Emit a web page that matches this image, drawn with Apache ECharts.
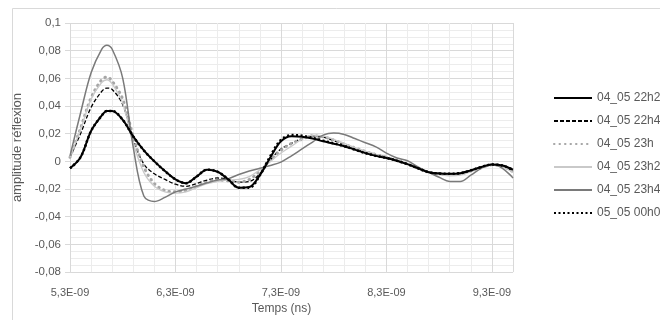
<!DOCTYPE html>
<html>
<head>
<meta charset="utf-8">
<script src="https://cdn.jsdelivr.net/npm/echarts@6/dist/echarts.min.js"></script>
<style>
  html, body { margin: 0; padding: 0; background: #fff; }
  #chart { width: 660px; height: 320px; }
</style>
</head>
<body>
<div id="chart"></div>
<script>
// temps en ns (axe affiché en E-09)
var T0 = 5.3;
var temps = [5.3, 5.4, 5.5, 5.6, 5.65, 5.7, 5.8, 5.9, 6.0, 6.1, 6.2, 6.3, 6.4, 6.5, 6.6, 6.7, 6.8, 6.9, 7.0, 7.1, 7.2,
             7.3, 7.4, 7.5, 7.6, 7.7, 7.8, 7.9, 8.0, 8.1, 8.2, 8.3, 8.4, 8.5, 8.6, 8.7, 8.8, 8.9, 9.0, 9.1, 9.2, 9.3, 9.4, 9.5];
var xTicks = ['5,3E-09', '6,3E-09', '7,3E-09', '8,3E-09', '9,3E-09'];
var noms = ['04_05 22h20', '04_05 22h40', '04_05 23h', '04_05 23h20', '04_05 23h40', '05_05 00h00'];

var s2220 = [-0.005, 0.003, 0.022, 0.033, 0.0365, 0.0365, 0.030, 0.018, 0.008, 0.000, -0.007, -0.013, -0.0158, -0.011, -0.006, -0.0075, -0.013, -0.019, -0.0185, -0.010, 0.003,
             0.0145, 0.0182, 0.0178, 0.0165, 0.0145, 0.0128, 0.011, 0.0085, 0.006, 0.004, 0.0025, 0.0005, -0.002, -0.005, -0.0078, -0.0088, -0.009, -0.0085, -0.0065, -0.004, -0.0023, -0.003, -0.006];
var s2240 = [0.003, 0.020, 0.039, 0.0505, 0.053, 0.052, 0.041, 0.016, -0.002, -0.009, -0.013, -0.0165, -0.018, -0.016, -0.0135, -0.012, -0.013, -0.015, -0.0145, -0.009, 0.001,
             0.009, 0.013, 0.0165, 0.0185, 0.0175, 0.015, 0.0122, 0.0095, 0.007, 0.005, 0.003, 0.0005, -0.002, -0.005, -0.0075, -0.0085, -0.009, -0.0085, -0.0065, -0.0045, -0.0025, -0.0035, -0.007];
var s2300 = [0.003, 0.024, 0.046, 0.059, 0.061, 0.058, 0.045, 0.018, -0.004, -0.016, -0.021, -0.022, -0.021, -0.018, -0.015, -0.0135, -0.014, -0.015, -0.013, -0.007, 0.001,
             0.008, 0.013, 0.016, 0.0185, 0.0178, 0.0155, 0.0125, 0.0098, 0.0072, 0.005, 0.003, 0.0005, -0.002, -0.005, -0.0078, -0.009, -0.0095, -0.009, -0.007, -0.0045, -0.0025, -0.0035, -0.0075];
var s2320 = [0.003, 0.023, 0.045, 0.057, 0.059, 0.056, 0.042, 0.013, -0.008, -0.018, -0.022, -0.023, -0.022, -0.019, -0.016, -0.0145, -0.0135, -0.013, -0.011, -0.006, 0.000,
             0.006, 0.011, 0.016, 0.019, 0.0185, 0.016, 0.013, 0.010, 0.0075, 0.005, 0.003, 0.0005, -0.002, -0.005, -0.008, -0.0095, -0.0105, -0.010, -0.0075, -0.0045, -0.0025, -0.004, -0.008];
var s2340 = [0.004, 0.035, 0.064, 0.081, 0.084, 0.081, 0.060, 0.010, -0.025, -0.029, -0.026, -0.022, -0.020, -0.018, -0.0155, -0.0135, -0.0125, -0.0095, -0.007, -0.005, -0.003,
             -0.0005, 0.004, 0.009, 0.014, 0.019, 0.0205, 0.0195, 0.0165, 0.0135, 0.0105, 0.006, 0.0025, 0.0005, -0.004, -0.0078, -0.0115, -0.0145, -0.0145, -0.010, -0.005, -0.0023, -0.005, -0.012];
var s0000 = [-0.005, 0.003, 0.022, 0.033, 0.0365, 0.0365, 0.030, 0.018, 0.008, 0.000, -0.007, -0.013, -0.0158, -0.011, -0.006, -0.0075, -0.013, -0.019, -0.019, -0.010, 0.004,
             0.0155, 0.019, 0.0185, 0.017, 0.015, 0.013, 0.011, 0.0085, 0.006, 0.004, 0.0025, 0.0005, -0.002, -0.005, -0.0078, -0.0088, -0.009, -0.0085, -0.0065, -0.004, -0.0023, -0.003, -0.006];

var valeurs = [s2220, s2240, s2300, s2320, s2340, s0000];
var traits = [
  {color: '#000000', width: 2, type: 'solid'},
  {color: '#000000', width: 1.3, type: [4, 2]},
  {color: '#a6a6a6', width: 3, type: [0.5, 5], cap: 'round'},
  {color: '#c9c9c9', width: 1.3, type: 'solid'},
  {color: '#7a7a7a', width: 1.5, type: 'solid'},
  {color: '#000000', width: 2.5, type: [2, 2.5]}
];

var police = '"Liberation Sans", Arial, sans-serif';
var gris = '#595959';

var series = [];
for (var k = 0; k < noms.length; k++) {
  series.push({
    name: noms[k],
    type: 'line',
    xAxisIndex: 0,
    symbol: 'circle',
    showSymbol: false,
    smooth: 0.35,
    lineStyle: traits[k],
    itemStyle: {color: traits[k].color},
    z: 3 + (k === 0 || k === 5 ? 1 : 0),
    data: temps.map(function (t, i) { return [t - T0, valeurs[k][i]]; }),
    animation: false
  });
}

var myChart = echarts.init(document.getElementById('chart'));
var option = {
  animation: false,
  textStyle: {fontFamily: police},
  grid: {left: 70, right: 147, top: 23, bottom: 36},
  legend: {
    orient: 'vertical',
    left: 553,
    top: 92,
    padding: 0,
    itemWidth: 38,
    itemHeight: 14,
    itemGap: 11,
    itemStyle: {opacity: 0},
    textStyle: {color: gris, fontSize: 12, fontFamily: police},
    data: noms
  },
  xAxis: [
    {
      type: 'value',
      min: 0,
      max: 4.2,
      interval: 1,
      z: 1,
      name: 'Temps (ns)',
      nameLocation: 'middle',
      nameGap: 26,
      nameTextStyle: {color: gris, fontSize: 12, padding: [0, 20, 0, 0]},
      axisLine: {show: true, lineStyle: {color: '#d9d9d9'}},
      axisTick: {show: true, length: 4, lineStyle: {color: '#d9d9d9'}},
      axisLabel: {
        color: gris, fontSize: 11, margin: 15, showMaxLabel: false,
        formatter: function (v) {
          var i = Math.round(v);
          return Math.abs(v - i) < 1e-6 && xTicks[i] ? xTicks[i] : '';
        }
      },
      splitLine: {show: true, lineStyle: {color: '#d9d9d9'}}
    },
    {
      type: 'value',
      min: 0,
      max: 4.2,
      interval: 0.2,
      z: 0,
      position: 'bottom',
      axisLine: {show: false},
      axisTick: {show: false},
      axisLabel: {show: false},
      splitLine: {show: true, lineStyle: {color: '#ececec'}}
    }
  ],
  yAxis: {
    type: 'value',
    min: -0.08,
    max: 0.1,
    interval: 0.02,
    name: 'amplitude réflexion',
    nameLocation: 'middle',
    nameGap: 33,
    nameTextStyle: {color: gris, fontSize: 13},
    axisLine: {show: false},
    axisTick: {show: true, length: 5, lineStyle: {color: '#d9d9d9'}},
    axisLabel: {
      color: gris, fontSize: 11.5, margin: 9,
      formatter: function (v) {
        return String(parseFloat(v.toFixed(3))).replace('.', ',');
      }
    },
    splitLine: {show: true, lineStyle: {color: '#d9d9d9'}},
    minorTick: {show: false, splitNumber: 4},
    minorSplitLine: {show: true, lineStyle: {color: '#ececec'}}
  },
  graphic: [
    {
      type: 'rect',
      left: 10, top: 6,
      shape: {x: 0, y: 0, width: 700, height: 400},
      style: {fill: 'none', stroke: '#d9d9d9', lineWidth: 1},
      z: -10
    }
  ],
  series: series
};
myChart.setOption(option);
</script>
</body>
</html>
